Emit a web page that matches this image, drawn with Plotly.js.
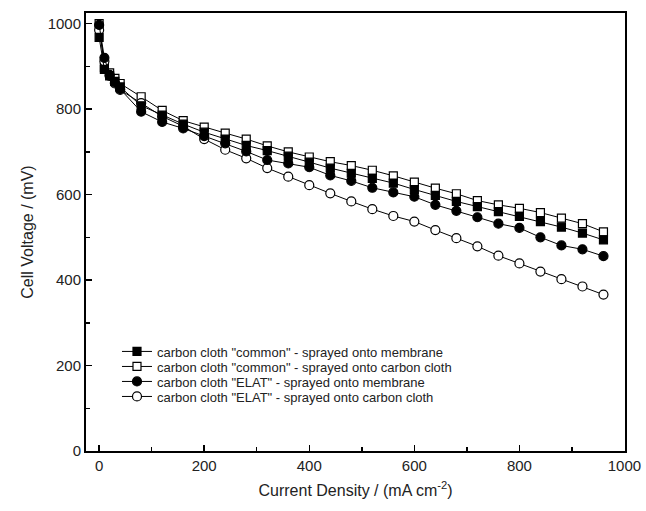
<!DOCTYPE html>
<html>
<head>
<meta charset="utf-8">
<script src="https://cdn.plot.ly/plotly-3.0.1.min.js"></script>
<style>html,body{margin:0;padding:0;background:#fff;}#chart{width:646px;height:511px;}</style>
</head>
<body>
<div id="chart"></div>
<script>
// Current density (mA cm^-2)
const currentDensity = [0, 10, 20, 30, 40, 80, 120, 160, 200, 240, 280, 320, 360, 400, 440, 480, 520, 560, 600, 640, 680, 720, 760, 800, 840, 880, 920, 960];

// Cell voltage (mV)
const commonMembrane = [968, 893, 878, 865, 852, 808, 786, 765, 746, 730, 715, 703, 690, 676, 662, 650, 638, 627, 612, 598, 584, 572, 560, 549, 537, 524, 510, 494];
const commonCloth    = [1000, 897, 885, 872, 860, 829, 797, 773, 758, 744, 730, 714, 700, 688, 677, 668, 657, 644, 629, 615, 602, 586, 576, 568, 558, 545, 532, 513];
const elatMembrane   = [997, 920, 880, 862, 847, 794, 770, 755, 737, 720, 701, 681, 673, 664, 645, 632, 616, 605, 595, 576, 562, 547, 532, 522, 500, 481, 472, 456];
const elatCloth      = [985, 912, 878, 860, 845, 814, 783, 760, 730, 705, 685, 662, 642, 622, 603, 584, 566, 550, 537, 517, 498, 479, 457, 439, 420, 402, 385, 366];

const seriesNames = [
  'carbon cloth "common" - sprayed onto membrane',
  'carbon cloth "common" - sprayed onto carbon cloth',
  'carbon cloth "ELAT" - sprayed onto membrane',
  'carbon cloth "ELAT" - sprayed onto carbon cloth'
];

const FONT = 'Liberation Sans, Arial, Helvetica, sans-serif';

function mk(y, name, symbol, fill, size, legendId) {
  return {
    x: currentDensity, y: y, name: name, type: 'scatter', mode: 'lines+markers',
    line: {color: '#000', width: 1},
    marker: {symbol: symbol, size: size, color: fill, line: {color: '#000', width: 1.2}},
    legend: legendId
  };
}

// drawing order: open marks underneath, filled marks on top
const traces = [
  mk(commonCloth, seriesNames[1], 'square', '#fff', 8, 'legend2'),
  mk(elatCloth, seriesNames[3], 'circle', '#fff', 9, 'legend4'),
  mk(commonMembrane, seriesNames[0], 'square', '#000', 8, 'legend'),
  mk(elatMembrane, seriesNames[2], 'circle', '#000', 9, 'legend3')
];

const axisCommon = {
  showgrid: false, zeroline: false,
  showline: true, linecolor: '#000', linewidth: 2, mirror: true,
  ticks: 'inside', ticklen: 6, tickwidth: 1.5, tickcolor: '#000',
  tickfont: {family: FONT, size: 15, color: '#222'}
};

function leg(y) {
  return {
    x: 0.0575, y: y, xanchor: 'left', yanchor: 'middle',
    bgcolor: 'rgba(0,0,0,0)', borderwidth: 0,
    font: {family: FONT, size: 13, color: '#222'}
  };
}

const layout = {
  width: 646, height: 511,
  margin: {l: 86, r: 21, t: 13, b: 60},
  paper_bgcolor: '#fff', plot_bgcolor: '#fff',
  font: {family: FONT, color: '#222'},
  showlegend: true,
  legend: leg(0.2272),
  legend2: leg(0.1929),
  legend3: leg(0.1587),
  legend4: leg(0.1244),
  xaxis: Object.assign({}, axisCommon, {
    range: [-25, 1001], tick0: 0, dtick: 200,
    minor: {ticks: 'inside', ticklen: 4, tickwidth: 1.5, tickcolor: '#000', dtick: 100},
    title: {text: 'Current Density / (mA cm<sup>-2</sup>)', font: {family: FONT, size: 16, color: '#222'}, standoff: 12}
  }),
  yaxis: Object.assign({}, axisCommon, {
    range: [0, 1025], tick0: 0, dtick: 200,
    minor: {ticks: 'inside', ticklen: 4, tickwidth: 1.5, tickcolor: '#000', dtick: 100},
    title: {text: 'Cell Voltage / (mV)', font: {family: FONT, size: 16, color: '#222'}, standoff: 10}
  })
};

Plotly.newPlot('chart', traces, layout, {displayModeBar: false, staticPlot: true});
</script>
</body>
</html>
